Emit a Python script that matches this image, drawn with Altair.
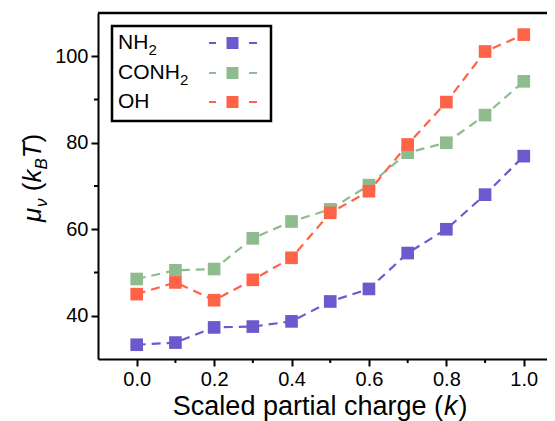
import altair as alt
import pandas as pd

# ---- data ----
k_vals = [0.0, 0.1, 0.2, 0.3, 0.4, 0.5, 0.6, 0.7, 0.8, 0.9, 1.0]
nh2 = [33.3, 33.8, 37.3, 37.5, 38.7, 43.3, 46.2, 54.5, 60.0, 68.0, 76.9]
conh2 = [48.5, 50.5, 50.8, 57.9, 61.8, 64.6, 70.2, 77.7, 80.0, 86.4, 94.2]
oh = [45.0, 47.7, 43.6, 48.3, 53.4, 63.8, 68.8, 79.6, 89.4, 101.1, 105.0]
series = ["NH2", "CONH2", "OH"]
colors = ["#6A5ACD", "#8FBC8F", "#FF6347"]
x_ticks = [0.0, 0.2, 0.4, 0.6, 0.8, 1.0]
x_minor = [0.1, 0.3, 0.5, 0.7, 0.9]
y_ticks = [40, 60, 80, 100]
y_minor = [50, 70, 90]

FONT = "Liberation Sans"
W, H = 449, 346

rows = []
for name, vals in zip(series, [nh2, conh2, oh]):
    for k, v in zip(k_vals, vals):
        rows.append({"k": k, "mu": v, "series": name})
df = pd.DataFrame(rows)
dummy = pd.DataFrame({"a": [0]})

xscale = alt.Scale(domain=[-0.1, 1.06], nice=False, zero=False)
yscale = alt.Scale(domain=[30, 110], nice=False, zero=False)
xaxis = alt.Axis(values=x_ticks, format=".1f", title=None, grid=False,
                 labelFontSize=20, labelFont=FONT, labelColor="black",
                 tickSize=7, tickWidth=2, tickColor="black",
                 domainWidth=2, domainColor="black", labelPadding=3)
yaxis = alt.Axis(values=y_ticks, format="d", title=None, grid=False,
                 labelFontSize=20, labelFont=FONT, labelColor="black",
                 tickSize=7, tickWidth=2, tickColor="black",
                 domainWidth=2, domainColor="black", labelPadding=3)
X = alt.X("k:Q", scale=xscale, axis=xaxis)
Y = alt.Y("mu:Q", scale=yscale, axis=yaxis)
color = alt.Color("series:N", scale=alt.Scale(domain=series, range=colors), legend=None)

lines = alt.Chart(df).mark_line(strokeDash=[9, 6], strokeWidth=2.2).encode(
    x=X, y=Y, color=color, detail="series:N")
points = alt.Chart(df).mark_square(size=160, opacity=1).encode(
    x=X, y=Y, color=color)

xm = alt.Chart(pd.DataFrame({"k": x_minor})).mark_rule(color="black", strokeWidth=2).encode(
    x=X, y=alt.value(H), y2=alt.value(H + 4))
ym = alt.Chart(pd.DataFrame({"mu": y_minor})).mark_rule(color="black", strokeWidth=2).encode(
    y=Y, x=alt.value(-4), x2=alt.value(0))
top = alt.Chart(dummy).mark_rule(color="black", strokeWidth=2.5).encode(
    x=alt.value(0), x2=alt.value(W), y=alt.value(0))

layers = [lines, points, xm, ym, top]

# ---- legend (manual, labels left, symbols right) ----
layers.append(alt.Chart(dummy).mark_rect(fill=None, stroke="black", strokeWidth=2.5).encode(
    x=alt.value(14), x2=alt.value(173), y=alt.value(13), y2=alt.value(108)))
leg_rows = [("NH", "2", 30), ("CONH", "2", 60), ("OH", "", 89)]
sub_off = {"NH": 30.5, "CONH": 62, "OH": 0}
for (main, sub, yy), col in zip(leg_rows, colors):
    layers.append(alt.Chart(dummy).mark_text(text=main, font=FONT, fontSize=21, align="left",
                                             baseline="middle", color="black").encode(
        x=alt.value(20), y=alt.value(yy)))
    if sub:
        layers.append(alt.Chart(dummy).mark_text(text=sub, font=FONT, fontSize=15, align="left",
                                                 baseline="middle", color="black").encode(
            x=alt.value(20 + sub_off[main]), y=alt.value(yy + 7)))
    layers.append(alt.Chart(dummy).mark_rule(color=col, strokeWidth=2).encode(
        x=alt.value(111), x2=alt.value(118), y=alt.value(yy)))
    layers.append(alt.Chart(dummy).mark_rule(color=col, strokeWidth=2).encode(
        x=alt.value(151), x2=alt.value(159), y=alt.value(yy)))
    layers.append(alt.Chart(dummy).mark_square(size=144, opacity=1, color=col).encode(
        x=alt.value(134.5), y=alt.value(yy)))

# ---- x title: Scaled partial charge (k) ----
X0 = 345
TY = 401.5
layers.append(alt.Chart(dummy).mark_text(text="Scaled partial charge (", font=FONT, fontSize=27,
                                         align="right", baseline="alphabetic", color="black").encode(
    x=alt.value(X0), y=alt.value(TY)))
layers.append(alt.Chart(dummy).mark_text(text="k", font=FONT, fontSize=27, fontStyle="italic",
                                         align="left", baseline="alphabetic", color="black").encode(
    x=alt.value(X0 + 1), y=alt.value(TY)))
layers.append(alt.Chart(dummy).mark_text(text=")", font=FONT, fontSize=27,
                                         align="left", baseline="alphabetic", color="black").encode(
    x=alt.value(X0 + 15.5), y=alt.value(TY)))

# ---- y title: mu_nu (k_B T), rotated ----
BX = -57
pieces = [("μ", 26, "italic", 0, 209), ("ν", 17, "italic", 6, 194),
          ("(", 26, "normal", 0, 178.3), ("k", 26, "italic", 0, 169.6),
          ("B", 17, "italic", 6, 156.6), ("T", 26, "italic", 0, 145.3),
          (")", 26, "normal", 0, 129.4)]
for txt, fs, st, dx, yy in pieces:
    layers.append(alt.Chart(dummy).mark_text(text=txt, font=FONT, fontSize=fs, fontStyle=st,
                                             angle=270, align="left", baseline="alphabetic",
                                             color="black").encode(
        x=alt.value(BX + dx), y=alt.value(yy)))

chart = alt.layer(*layers).properties(
    width=W, height=H,
    padding={"left": 90, "top": 5, "right": 0, "bottom": 62},
    autosize=alt.AutoSizeParams(type="none"),
).configure_view(stroke=None)

chart.save("out.html", embed_options={"renderer": "svg", "actions": False})
